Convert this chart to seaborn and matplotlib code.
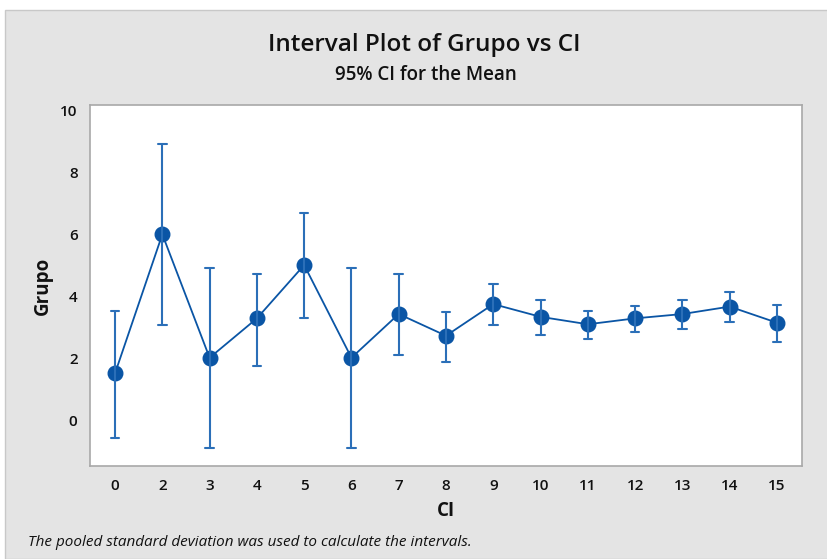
import numpy as np
import pandas as pd
import matplotlib
matplotlib.use("Agg")
import matplotlib.pyplot as plt
from matplotlib.patches import Rectangle
import seaborn as sns

categories = ["0", "2", "3", "4", "5", "6", "7", "8", "9", "10", "11", "12", "13", "14", "15"]
means = [1.52, 6.00, 2.02, 3.29, 5.01, 2.02, 3.43, 2.73, 3.75, 3.34, 3.10, 3.29, 3.43, 3.67, 3.15]
lower = [-0.56, 3.07, -0.88, 1.77, 3.31, -0.88, 2.11, 1.87, 3.08, 2.76, 2.61, 2.85, 2.94, 3.17, 2.53]
upper = [3.54, 8.91, 4.90, 4.72, 6.68, 4.90, 4.72, 3.49, 4.39, 3.87, 3.54, 3.69, 3.87, 4.15, 3.73]
y_ticks = [0, 2, 4, 6, 8, 10]

# long table: per category lower / mean / upper; median -> mean, 100% interval -> CI
rows = []
for c, lo, m, up in zip(categories, lower, means, upper):
    for v in (lo, m, up):
        rows.append({"CI": c, "Grupo": v})
df = pd.DataFrame(rows)

sns.set_style("white")
plt.rcParams["font.family"] = ["Open Sans", "DejaVu Sans"]

fig = plt.figure(figsize=(8.27, 5.59), dpi=100)
fig.patch.set_facecolor("white")
fig.patches.append(Rectangle((5 / 827, 0), 1, 1 - 10 / 559, transform=fig.transFigure,
                             facecolor="#e4e4e4", edgecolor="#c8c8c8", linewidth=1.0, zorder=-10))

ax = fig.add_axes([90 / 827, 1 - 466 / 559, (802 - 90) / 827, (466 - 105) / 559])
ax.set_facecolor("white")

sns.pointplot(data=df, x="CI", y="Grupo", order=categories, estimator=np.median,
              errorbar=("pi", 100), color="#0a55a5", markers="o", markersize=10.5,
              linewidth=1.3, capsize=0.18,
              err_kws={"color": "#2b6fb8", "linewidth": 1.5}, ax=ax)

ax.set_xlim(-0.53, len(categories) - 1 + 0.53)
ax.set_ylim(-1.47, 10.17)
ax.set_yticks(y_ticks)
ax.set_yticklabels([str(t) for t in y_ticks])

for s in ax.spines.values():
    s.set_color("#a8a8a8")
    s.set_linewidth(1.2)
ax.tick_params(axis="both", which="both", direction="out", length=4, width=1,
               color="#a8a8a8", labelsize=11, labelcolor="#111111", pad=5)
for lab in ax.get_xticklabels() + ax.get_yticklabels():
    lab.set_fontweight("semibold")

ax.set_xlabel("CI", fontsize=13.5, fontweight="bold", labelpad=6, color="#111111")
ax.set_ylabel("Grupo", fontsize=13.5, fontweight="bold", labelpad=5, color="#111111")

fig.text(424 / 827, 1 - 45 / 559, "Interval Plot of Grupo vs CI", ha="center", va="center",
         fontsize=17.5, fontweight="semibold", color="#111111")
fig.text(426 / 827, 1 - 75 / 559, "95% CI for the Mean", ha="center", va="center",
         fontsize=13.5, fontweight="semibold", color="#111111")
fig.text(28 / 827, 1 - 543 / 559, "The pooled standard deviation was used to calculate the intervals.",
         ha="left", va="center", fontsize=11, style="italic", color="#111111")

fig.savefig("out.png", dpi=100, facecolor=fig.get_facecolor())
